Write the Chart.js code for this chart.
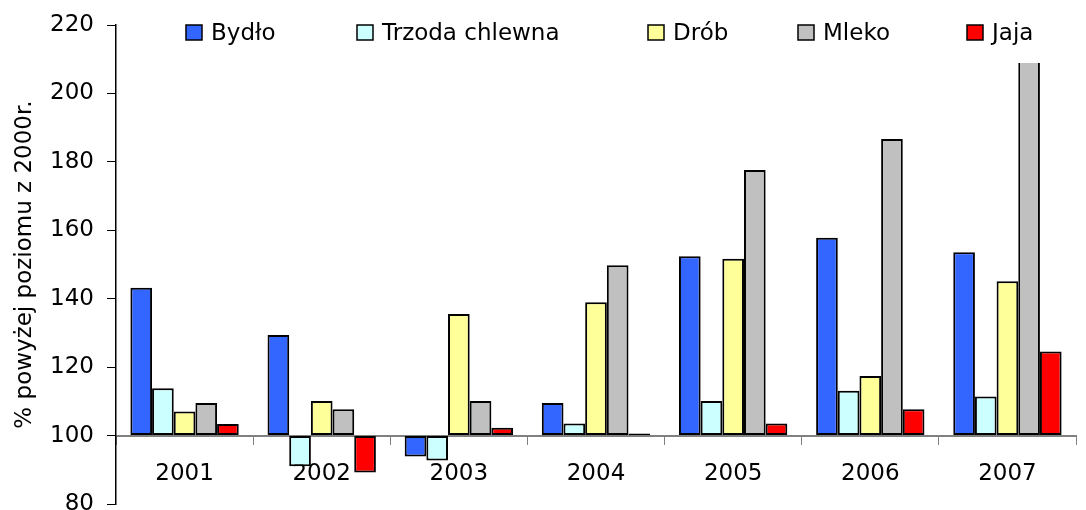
<!DOCTYPE html>
<html>
<head>
<meta charset="utf-8">
<script src="https://cdn.jsdelivr.net/npm/chart.js@4/dist/chart.umd.min.js"></script>
<style>
  html, body { margin: 0; padding: 0; background: #fff; }
  #wrap { width: 1086px; height: 510px; position: relative; }
</style>
</head>
<body>
<div id="wrap"><canvas id="myChart"></canvas></div>
<script>
// data (% of 2000 level)
const years = ["2001", "2002", "2003", "2004", "2005", "2006", "2007"];
const bydlo = [143.2, 129.4, 93.9, 109.5, 152.4, 157.8, 153.6];
const trzoda = [113.8, 91.0, 92.7, 103.5, 110.1, 113.1, 111.4];
const drob = [107.0, 110.1, 135.5, 139.0, 151.7, 117.4, 145.1];
const mleko = [109.5, 107.7, 110.1, 149.8, 177.6, 186.7, 230.0];
const jaja = [103.4, 89.2, 102.3, 100.6, 103.5, 107.7, 124.6];
const yTicks = [80, 100, 120, 140, 160, 180, 200, 220];

const FONT = "'DejaVu Sans', sans-serif";
const FSIZE = 23;

// legend layout (style only)
const legendX = [186, 357, 648, 798, 967];
const legendBox = { left: 176, right: 1072, top: 6, bottom: 63 };

const mkSet = (label, data, color) => ({
  label: label,
  data: data,
  base: 100,
  backgroundColor: color,
  borderColor: "#000",
  borderWidth: 2,
  borderSkipped: false,
  categoryPercentage: 0.79,
  barPercentage: 1.0,
});

// white legend box drawn over the plot (it hides the top of the tall bar)
const legendPlugin = {
  id: "boxLegend",
  afterDatasetsDraw(chart) {
    const ctx = chart.ctx;
    ctx.save();
    ctx.fillStyle = "#fff";
    ctx.fillRect(legendBox.left, legendBox.top, legendBox.right - legendBox.left, legendBox.bottom - legendBox.top);
    ctx.font = FSIZE + "px " + FONT;
    ctx.textBaseline = "alphabetic";
    chart.data.datasets.forEach((ds, i) => {
      const x = legendX[i];
      ctx.fillStyle = ds.backgroundColor;
      ctx.fillRect(x, 25, 16, 15);
      ctx.lineWidth = 1.5;
      ctx.strokeStyle = "#000";
      ctx.strokeRect(x, 25, 16, 15);
      ctx.fillStyle = "#000";
      ctx.fillText(ds.label, x + 25, 40);
    });
    ctx.restore();
  },
};

const ctx = document.getElementById("myChart").getContext("2d");
new Chart(ctx, {
  type: "bar",
  data: {
    labels: years,
    datasets: [
      mkSet("Bydło", bydlo, "#3366FF"),
      mkSet("Trzoda chlewna", trzoda, "#CCFFFF"),
      mkSet("Drób", drob, "#FFFF99"),
      mkSet("Mleko", mleko, "#C0C0C0"),
      mkSet("Jaja", jaja, "#FF0000"),
    ],
  },
  plugins: [legendPlugin],
  options: {
    responsive: true,
    maintainAspectRatio: false,
    animation: false,
    layout: { padding: { left: 0, right: 10, top: 25, bottom: 6 } },
    plugins: {
      legend: { display: false },
      tooltip: { enabled: false },
    },
    scales: {
      x: {
        position: { y: 100 },
        afterFit: (s) => { s.height = 0; },
        grid: {
          display: true,
          drawOnChartArea: false,
          drawTicks: true,
          tickLength: 8,
          color: "#808080",
          lineWidth: 1,
        },
        border: { display: true, color: "#808080", width: 2 },
        ticks: {
          color: "#000",
          font: { family: FONT, size: FSIZE },
          padding: 17,
          maxRotation: 0,
        },
      },
      y: {
        min: 80,
        max: 220,
        afterFit: (s) => {
          s.width = 116;
          s.paddingTop = 0;
          s.paddingBottom = 0;
        },
        afterBuildTicks: (s) => { s.ticks = yTicks.map((v) => ({ value: v })); },
        grid: {
          display: true,
          drawOnChartArea: false,
          drawTicks: true,
          tickLength: 9,
          color: "#000",
          lineWidth: 1,
        },
        border: { display: true, color: "#000", width: 1.5 },
        ticks: {
          color: "#000",
          font: { family: FONT, size: FSIZE },
          padding: 13,
        },
        title: {
          display: true,
          text: "% powyżej poziomu z 2000r.",
          color: "#000",
          font: { family: FONT, size: FSIZE },
          padding: { top: 11, bottom: 0 },
        },
      },
    },
  },
});
</script>
</body>
</html>
